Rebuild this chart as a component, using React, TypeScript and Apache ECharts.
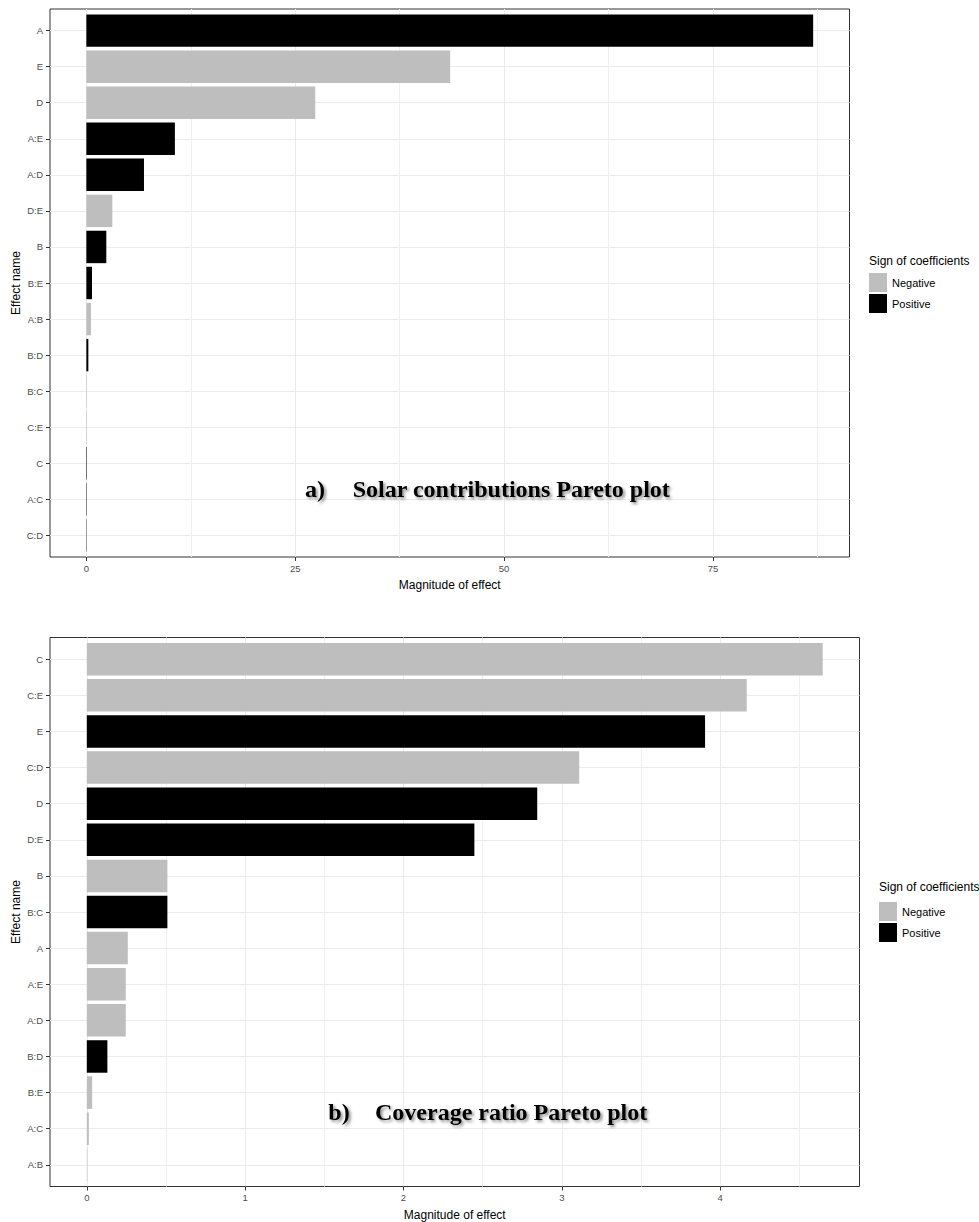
import React, { useEffect, useRef } from 'react';
import * as echarts from 'echarts';

// ---- Chart a) Solar contributions ----
const catsA = ['A', 'E', 'D', 'A:E', 'A:D', 'D:E', 'B', 'B:E', 'A:B', 'B:D', 'B:C', 'C:E', 'C', 'A:C', 'C:D'];
const valsA = [87.0, 43.55, 27.4, 10.6, 6.9, 3.11, 2.39, 0.68, 0.56, 0.24, 0.06, 0.06, 0.06, 0.05, 0.04];
const signsA = ['Positive', 'Negative', 'Negative', 'Positive', 'Positive', 'Negative', 'Positive', 'Positive', 'Negative', 'Positive', 'Negative', 'Negative', 'Positive', 'Positive', 'Positive'];
const ticksA = [0, 25, 50, 75];
const minorA = [12.5, 37.5, 62.5, 87.5];

// ---- Chart b) Coverage ratio ----
const catsB = ['C', 'C:E', 'E', 'C:D', 'D', 'D:E', 'B', 'B:C', 'A', 'A:E', 'A:D', 'B:D', 'B:E', 'A:C', 'A:B'];
const valsB = [4.648, 4.168, 3.905, 3.11, 2.845, 2.448, 0.509, 0.509, 0.259, 0.246, 0.246, 0.13, 0.034, 0.013, 0.003];
const signsB = ['Negative', 'Negative', 'Positive', 'Negative', 'Positive', 'Positive', 'Negative', 'Positive', 'Negative', 'Negative', 'Negative', 'Positive', 'Negative', 'Negative', 'Negative'];
const ticksB = [0, 1, 2, 3, 4];
const minorB = [0.5, 1.5, 2.5, 3.5, 4.5];

const signNames = ['Negative', 'Positive'];
const NEG = '#BEBEBE';
const POS = '#000000';
const SANS = '"Liberation Sans", Arial, sans-serif';
const SERIF = '"Liberation Serif", "Times New Roman", serif';
const GRIDC = '#EBEBEB';

function barSeries(name: string, cats: string[], vals: number[], signs: string[], xi: number, yi: number, color: string) {
  const data: number[][] = [];
  vals.forEach((v, i) => {
    if (signs[i] === name) data.push([v, i]);
  });
  return {
    type: 'custom',
    name,
    xAxisIndex: xi,
    yAxisIndex: yi,
    itemStyle: { color },
    encode: { x: 0, y: 1 },
    data,
    renderItem: (_params: any, api: any) => {
      const v = api.value(0);
      const i = api.value(1);
      const p0 = api.coord([0, i - 0.45]);
      const p1 = api.coord([v, i + 0.45]);
      const x = Math.min(p0[0], p1[0]);
      const y = Math.min(p0[1], p1[1]);
      return {
        type: 'rect',
        shape: { x, y, width: Math.abs(p1[0] - p0[0]), height: Math.abs(p1[1] - p0[1]) },
        style: { fill: color },
      };
    },
  };
}

function xMajor(gi: number, vals: number[], ticks: number[]) {
  const mx = Math.max(...vals);
  return {
    type: 'value',
    gridIndex: gi,
    position: 'bottom',
    min: -0.05 * mx,
    max: 1.05 * mx,
    name: 'Magnitude of effect',
    nameLocation: 'middle',
    nameGap: 22,
    nameMoveOverlap: false,
    nameTextStyle: { color: '#000', fontSize: 12, fontFamily: SANS },
    axisLine: { show: false, onZero: false },
    axisTick: { show: true, length: 4, lineStyle: { color: '#333333' }, customValues: ticks },
    axisLabel: { show: true, customValues: ticks, color: '#4D4D4D', fontSize: 9.5, fontFamily: SANS, margin: 6, formatter: (v: number) => String(v) },
    splitLine: { show: true, lineStyle: { color: GRIDC, width: 1 } },
  };
}

function xMinor(gi: number, vals: number[], ticks: number[]) {
  const mx = Math.max(...vals);
  return {
    type: 'value',
    gridIndex: gi,
    position: 'bottom',
    min: -0.05 * mx,
    max: 1.05 * mx,
    axisLine: { show: false, onZero: false },
    axisTick: { show: false, customValues: ticks },
    axisLabel: { show: false, customValues: ticks },
    splitLine: { show: true, lineStyle: { color: '#F0F0F0', width: 1 } },
  };
}

function yAxisFor(gi: number, cats: string[]) {
  const idx = cats.map((_c, i) => i);
  return {
    type: 'value',
    gridIndex: gi,
    inverse: true,
    min: -0.6,
    max: cats.length - 1 + 0.6,
    name: 'Effect name',
    nameLocation: 'middle',
    nameGap: 28,
    nameMoveOverlap: false,
    nameTextStyle: { color: '#000', fontSize: 12, fontFamily: SANS },
    axisLine: { show: false, onZero: false },
    axisTick: { show: true, length: 4, lineStyle: { color: '#333333' }, customValues: idx },
    axisLabel: { show: true, customValues: idx, color: '#4D4D4D', fontSize: 9.5, fontFamily: SANS, margin: 7, formatter: (v: number) => cats[Math.round(v)] },
    splitLine: { show: true, lineStyle: { color: GRIDC, width: 1 } },
  };
}

export default function App() {
  const ref = useRef<HTMLDivElement>(null);
  useEffect(() => {
    document.body.style.margin = '0';
    if (!ref.current) return;
    const chart = echarts.init(ref.current, undefined, { renderer: 'svg' });
    const legendCommon = {
      data: signNames,
      orient: 'vertical',
      itemWidth: 18,
      itemHeight: 19,
      itemGap: 2,
      icon: 'rect',
      padding: 0,
      selectedMode: false,
      textStyle: { fontSize: 11, color: '#000', fontFamily: SANS },
    };
    const shadow = { textShadowColor: 'rgba(0,0,0,0.45)', textShadowBlur: 3, textShadowOffsetX: 2, textShadowOffsetY: 2 };
    chart.setOption({
      animation: false,
      backgroundColor: '#ffffff',
      grid: [
        { left: 50, top: 9, width: 799.5, height: 548, containLabel: false, outerBoundsMode: 'none', show: true, borderColor: '#333333', borderWidth: 1, backgroundColor: 'transparent' },
        { left: 50, top: 637.5, width: 809.5, height: 549, containLabel: false, outerBoundsMode: 'none', show: true, borderColor: '#333333', borderWidth: 1, backgroundColor: 'transparent' },
      ],
      xAxis: [xMajor(0, valsA, ticksA), xMinor(0, valsA, minorA), xMajor(1, valsB, ticksB), xMinor(1, valsB, minorB)],
      yAxis: [yAxisFor(0, catsA), yAxisFor(1, catsB)],
      legend: [
        { ...legendCommon, left: 869, top: 273 },
        { ...legendCommon, left: 879, top: 902 },
      ],
      series: [
        barSeries('Negative', catsA, valsA, signsA, 0, 0, NEG),
        barSeries('Positive', catsA, valsA, signsA, 0, 0, POS),
        barSeries('Negative', catsB, valsB, signsB, 2, 1, NEG),
        barSeries('Positive', catsB, valsB, signsB, 2, 1, POS),
      ],
      graphic: [
        { type: 'text', x: 869, y: 261, style: { text: 'Sign of coefficients', fontSize: 12, fontFamily: SANS, fill: '#000', verticalAlign: 'middle' } },
        { type: 'text', x: 879, y: 887, style: { text: 'Sign of coefficients', fontSize: 12, fontFamily: SANS, fill: '#000', verticalAlign: 'middle' } },
        { type: 'text', x: 305, y: 489, z: 100, style: { text: 'a)', fontSize: 24, fontWeight: 'bold', fontFamily: SERIF, fill: '#000', verticalAlign: 'middle', ...shadow } },
        { type: 'text', x: 352.7, y: 489, z: 100, style: { text: 'Solar contributions Pareto plot', fontSize: 24, fontWeight: 'bold', fontFamily: SERIF, fill: '#000', verticalAlign: 'middle', ...shadow } },
        { type: 'text', x: 328.3, y: 1112, z: 100, style: { text: 'b)', fontSize: 24, fontWeight: 'bold', fontFamily: SERIF, fill: '#000', verticalAlign: 'middle', ...shadow } },
        { type: 'text', x: 375, y: 1112, z: 100, style: { text: 'Coverage ratio Pareto plot', fontSize: 24, fontWeight: 'bold', fontFamily: SERIF, fill: '#000', verticalAlign: 'middle', ...shadow } },
      ],
    });
    return () => {
      chart.dispose();
    };
  }, []);
  return <div ref={ref} style={{ width: 979, height: 1222 }} />;
}
